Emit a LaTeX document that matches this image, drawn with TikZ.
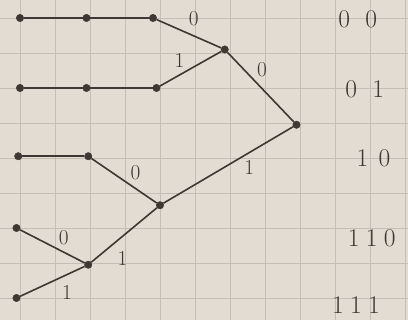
\documentclass[tikz,border=0pt]{standalone}
\usetikzlibrary{positioning}
\definecolor{paper}{RGB}{226,220,210}
\definecolor{gridc}{RGB}{196,190,182}
\definecolor{ink}{RGB}{62,56,52}

\begin{document}
\begin{tikzpicture}[
  dot/.style={circle, fill=ink, draw=ink, inner sep=0pt, minimum size=6pt},
  edge/.style={draw=ink, line width=1.3pt},
  lbl/.style={text=ink, font=\LARGE, inner sep=2pt},
  code/.style={text=ink, font=\huge, anchor=center}
]

% paper
\fill[paper] (-0.571,-0.629) rectangle (11.086,8.514);
\useasboundingbox (-0.571,-0.629) rectangle (11.086,8.514);
\draw[gridc, line width=0.6pt, step=1] (-0.571,-0.629) grid (11.086,8.514);

% leaves
\node[dot] (l1a) at (0,8) {};
\node[dot] (l1b) at (1.9,8) {};
\node[dot] (l1c) at (3.8,8) {};
\node[dot] (l2a) at (0,6) {};
\node[dot] (l2b) at (1.9,6) {};
\node[dot] (l2c) at (3.9,6) {};
\node[dot] (l3a) at (-0.05,4.05) {};
\node[dot] (l3b) at (1.95,4.05) {};
\node[dot] (l4) at (-0.1,2) {};
\node[dot] (l5) at (-0.1,0) {};

% inner nodes
\node[dot] (n0) at (5.85,7.1) {};
\node[dot] (root) at (7.9,4.95) {};
\node[dot] (nb) at (4,2.65) {};
\node[dot] (nc) at (1.95,0.95) {};

\draw[edge] (l1a) -- (l1b) -- (l1c);
\draw[edge] (l2a) -- (l2b) -- (l2c);
\draw[edge] (l3a) -- (l3b);

\draw[edge] (l1c) -- node[lbl, pos=.45, above right, yshift=3pt] {0} (n0);
\draw[edge] (l2c) -- node[lbl, pos=.45, above left] {1} (n0);
\draw[edge] (n0) -- node[lbl, pos=.4, above right] {0} (root);
\draw[edge] (l3b) -- node[lbl, pos=.55, above right] {0} (nb);
\draw[edge] (root) -- node[lbl, pos=.4, below right] {1} (nb);
\draw[edge] (l4) -- node[lbl, pos=.55, above right] {0} (nc);
\draw[edge] (l5) -- node[lbl, pos=.6, below right, yshift=-3pt] {1} (nc);
\draw[edge] (nc) -- node[lbl, pos=.35, below right, yshift=-4pt] {1} (nb);

% codes
\node[code] (c00) at (9.65,7.95) {0\hspace{0.6em}0};
\node[code] (c01) at (9.85,5.95) {0\hspace{0.6em}1};
\node[code] (c10) at (10.1,4.0) {1\hspace{0.4em}0};
\node[code] (c110) at (10.05,1.7) {1\hspace{0.25em}1\hspace{0.25em}0};
\node[code] (c111) at (9.6,-0.2) {1\hspace{0.25em}1\hspace{0.25em}1};

\end{tikzpicture}
\end{document}
